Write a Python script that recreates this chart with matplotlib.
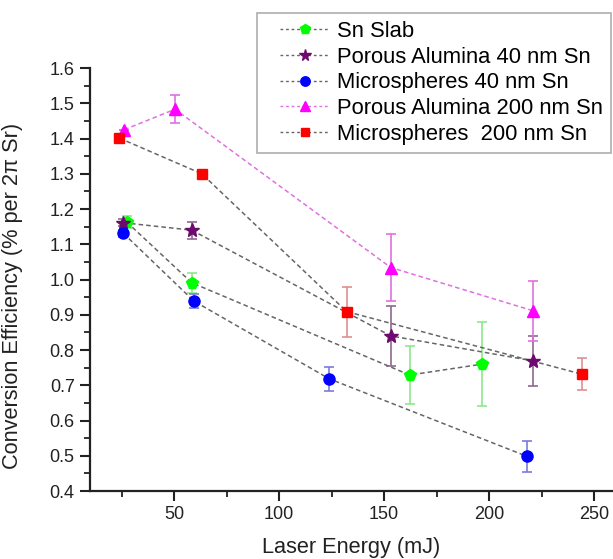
import matplotlib
matplotlib.use("Agg")
import matplotlib.pyplot as plt
from matplotlib.ticker import MultipleLocator, FormatStrFormatter
from matplotlib.legend_handler import HandlerLine2D

plt.rcParams['font.family'] = ['Liberation Sans', 'DejaVu Sans']

# ---- data ----
slab_x = [27.5, 58.4, 162.2, 196.8]
slab_y = [1.163, 0.991, 0.729, 0.760]
slab_e = [0.018, 0.028, 0.083, 0.120]

pa40_x = [25.9, 58.4, 153.2, 221.1]
pa40_y = [1.161, 1.140, 0.840, 0.769]
pa40_e = [0.010, 0.024, 0.084, 0.071]

ms40_x = [25.9, 59.4, 124.0, 218.2]
ms40_y = [1.131, 0.939, 0.718, 0.498]
ms40_e = [0.010, 0.020, 0.035, 0.045]

pa200_x = [26.3, 50.5, 153.2, 221.1]
pa200_y = [1.425, 1.483, 1.034, 0.911]
pa200_e = [0.0, 0.040, 0.095, 0.085]

ms200_x = [24.0, 63.2, 132.2, 244.4]
ms200_y = [1.401, 1.300, 0.909, 0.731]
ms200_e = [0.0, 0.0, 0.071, 0.045]

labels = ["Sn Slab", "Porous Alumina 40 nm Sn", "Microspheres 40 nm Sn",
          "Porous Alumina 200 nm Sn", "Microspheres  200 nm Sn"]

fig = plt.figure(figsize=(6.13, 5.59), dpi=100)
ax = fig.add_axes([90/613, 1-491/559, 1-90/613, (491-68)/559])

series = [
    (slab_x, slab_y, slab_e, 'p', '#00ff00', '#8fe88f', '#666666', 8.5),
    (pa40_x, pa40_y, pa40_e, '*', '#6e0a6e', '#8e6a8e', '#666666', 10),
    (ms40_x, ms40_y, ms40_e, 'o', '#0000ff', '#7a7ae0', '#666666', 8),
    (pa200_x, pa200_y, pa200_e, '^', '#ff00ff', '#e070e0', '#e070e0', 8.5),
    (ms200_x, ms200_y, ms200_e, 's', '#ff0000', '#e09090', '#666666', 7),
]

handles = []
for (x, y, e, m, mc, ec, lc, ms), lab in zip(series, labels):
    ax.errorbar(x, y, yerr=e, fmt='none', ecolor=ec, elinewidth=1.2,
                capsize=3.5, capthick=1.2, zorder=2)
    ax.plot(x, y, linestyle=(0, (3, 2)), color=lc, linewidth=1.1, zorder=3)
    ax.plot(x, y, linestyle='none', marker=m, markersize=ms,
            markerfacecolor=mc, markeredgecolor=mc, zorder=4)
    handles.append(plt.Line2D([], [], linestyle=(0, (2, 2)), color=lc, linewidth=1.0,
                              marker=m, markersize=ms*0.85, markerfacecolor=mc,
                              markeredgecolor=mc, label=lab))

ax.set_xlim(10, 259)
ax.set_ylim(0.4, 1.6)
ax.xaxis.set_major_locator(MultipleLocator(50))
ax.xaxis.set_minor_locator(MultipleLocator(25))
ax.yaxis.set_major_locator(MultipleLocator(0.1))
ax.yaxis.set_minor_locator(MultipleLocator(0.05))
ax.yaxis.set_major_formatter(FormatStrFormatter('%.1f'))

for s in ['top', 'right']:
    ax.spines[s].set_visible(False)
for s in ['left', 'bottom']:
    ax.spines[s].set_linewidth(1.6)
    ax.spines[s].set_color('#222222')

ax.tick_params(which='major', length=7.5, width=1.5, direction='out',
               labelsize=13, colors='#222222', pad=3.5)
ax.tick_params(which='minor', length=4.5, width=1.3, direction='out', colors='#222222')

ax.set_xlabel('Laser Energy (mJ)', fontsize=15.7, color='#222222', labelpad=10)
ax.set_ylabel('Conversion Efficiency (% per 2π Sr)', fontsize=15.7, color='#222222')
ax.yaxis.set_label_coords(-0.128, 0.461)

hmap = {h: HandlerLine2D(xpad=0.7) for h in handles}
leg = fig.legend(handles=handles, loc='upper left', bbox_to_anchor=(257/613, 1-13/559),
                 frameon=True, fancybox=False, fontsize=15.8, handlelength=2.95,
                 handletextpad=0.36, labelspacing=0.22, borderpad=0.35,
                 borderaxespad=0, numpoints=1, handler_map=hmap)
leg.get_frame().set_edgecolor('#999999')
leg.get_frame().set_linewidth(1.2)

fig.savefig('out.png', dpi=100)
